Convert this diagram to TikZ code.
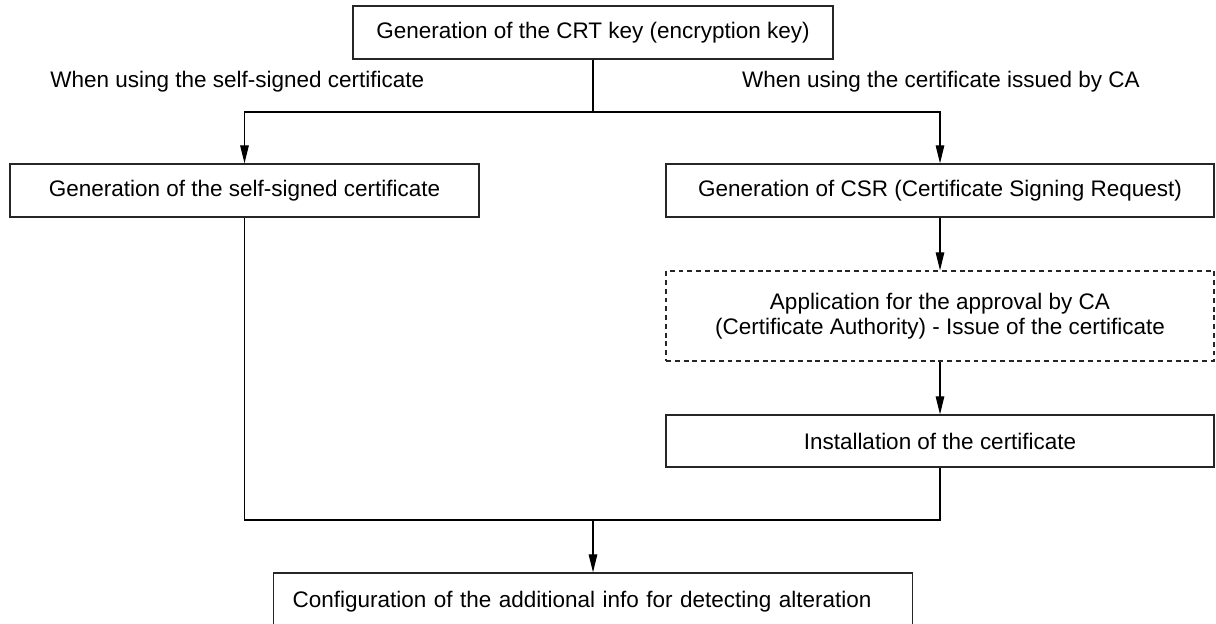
\documentclass[tikz,border=0pt]{standalone}
\usepackage{fontspec}
\setmainfont{Liberation Sans}
\usetikzlibrary{arrows.meta}
\begin{document}
\begin{tikzpicture}[x=0.02cm,y=-0.02cm,
  font=\fontsize{12.8}{14.3}\selectfont,
  box/.style={draw=black!85,line width=0.7pt,inner sep=0pt,align=center},
  dbox/.style={box,dash pattern=on 2.8pt off 2.2pt},
  conn/.style={draw=black,line width=0.65pt},
  arr/.style={conn,-{Triangle[length=0.36cm,width=0.17cm]}},
  lbl/.style={inner sep=0pt}]
\useasboundingbox (0,0) rectangle (1216,624);

\node[box,minimum width=9.6cm,minimum height=1.06cm] (top) at (593,32.5) {Generation of the CRT key (encryption key)};
\node[lbl,anchor=west] (labl) at (50,82) {When using the self-signed certificate};
\node[lbl,anchor=east] (labr) at (1140,82) {When using the certificate issued by CA};

\node[box,minimum width=9.38cm,minimum height=1.06cm] (left) at (244.5,190.5) {Generation of the self-signed certificate};
\node[box,minimum width=10.96cm,minimum height=1.06cm] (right) at (940,190.5) {Generation of CSR (Certificate Signing Request)};
\node[dbox,minimum width=10.96cm,minimum height=1.8cm] (apply) at (940,316) {Application for the approval by CA\\(Certificate Authority) - Issue of the certificate};
\node[box,minimum width=10.96cm,minimum height=1.04cm] (inst) at (940,441) {Installation of the certificate};
\node[box,minimum height=1.14cm,text width=12.02cm,inner xsep=0.38cm,align=left] (conf) at (593,601.5) {Configuration of the additional info for detecting alteration};

\coordinate (sp) at (593,112);
\coordinate (jn) at (593,520);

\draw[conn] (top.south) -- (sp);
\draw[arr] (sp) -| (left.north);
\draw[arr] (sp) -| (right.north);
\draw[arr] (right.south) -- (apply.north);
\draw[arr] (apply.south) -- (inst.north);
\draw[conn] (left.south) |- (jn) -| (inst.south);
\draw[arr] (jn) -- (conf.north);
\end{tikzpicture}
\end{document}
